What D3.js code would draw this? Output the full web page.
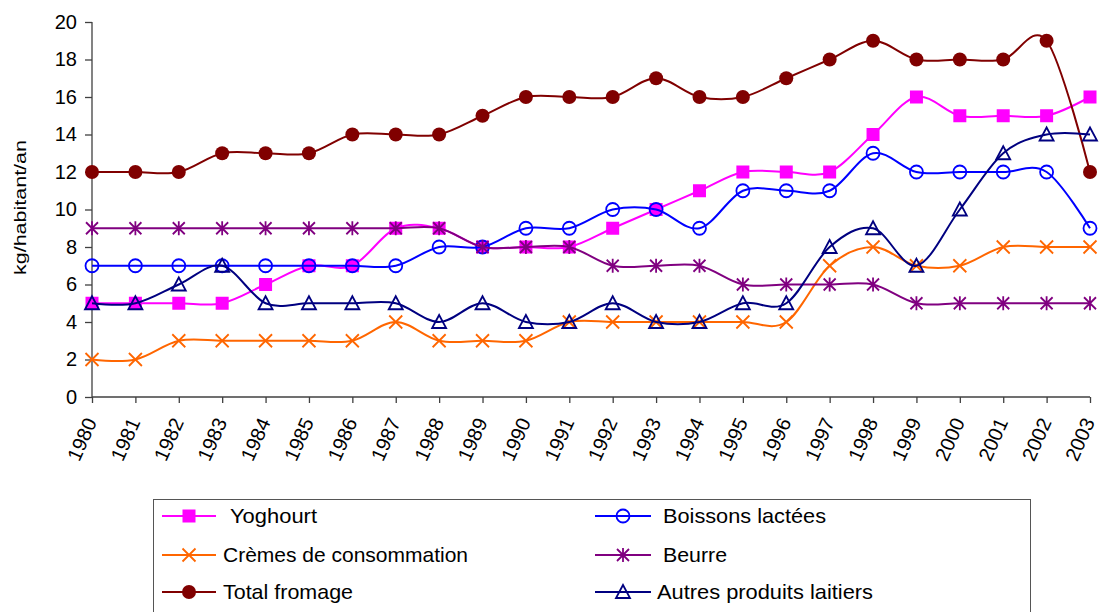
<!DOCTYPE html>
<html><head><meta charset="utf-8">
<script src="https://cdn.jsdelivr.net/npm/d3@7"></script>
<style>body{margin:0;background:#fff}svg{display:block;font-family:"Liberation Sans",Arial,sans-serif}</style>
</head><body><svg id="c" width="1104" height="612"></svg>
<script>
const years = ["1980","1981","1982","1983","1984","1985","1986","1987","1988","1989","1990","1991","1992","1993","1994","1995","1996","1997","1998","1999","2000","2001","2002","2003"];
const yoghourt = [5,5,5,5,6,7,7,9,9,8,8,8,9,10,11,12,12,12,14,16,15,15,15,16];
const boissons = [7,7,7,7,7,7,7,7,8,8,9,9,10,10,9,11,11,11,13,12,12,12,12,9];
const cremes = [2,2,3,3,3,3,3,4,3,3,3,4,4,4,4,4,4,7,8,7,7,8,8,8];
const beurre = [9,9,9,9,9,9,9,9,9,8,8,8,7,7,7,6,6,6,6,5,5,5,5,5];
const fromage = [12,12,12,13,13,13,14,14,14,15,16,16,16,17,16,16,17,18,19,18,18,18,19,12];
const autres = [5,5,6,7,5,5,5,5,4,5,4,4,5,4,4,5,5,8,9,7,10,13,14,14];
const yTicks = [0,2,4,6,8,10,12,14,16,18,20];
const seriesNames = ["Yoghourt","Boissons lactées","Crèmes de consommation","Beurre","Total fromage","Autres produits laitiers"];

const series = [
  {name:seriesNames[0], values:yoghourt, color:"#FF00FF", marker:"square"},
  {name:seriesNames[1], values:boissons, color:"#0000FF", marker:"circle"},
  {name:seriesNames[2], values:cremes, color:"#FF6600", marker:"x"},
  {name:seriesNames[3], values:beurre, color:"#800080", marker:"star"},
  {name:seriesNames[4], values:fromage, color:"#800000", marker:"dot"},
  {name:seriesNames[5], values:autres, color:"#000080", marker:"triangle"}
];

const svg = d3.select("#c");
const x = d3.scalePoint().domain(years).range([92, 1090]);
const y = d3.scaleLinear().domain([0,20]).range([397, 22]);
const axisColor = "#404040";

// Y axis
const gy = svg.append("g").attr("transform","translate(92,0)")
  .call(d3.axisLeft(y).tickValues(yTicks).tickSize(7).tickPadding(8).tickFormat(d3.format("d")));
gy.selectAll("path,line").attr("stroke",axisColor).attr("stroke-width",1.3);
gy.selectAll("text").attr("font-size",20).attr("fill","#000").attr("font-family","Liberation Sans, Arial, sans-serif");
gy.select(".domain").attr("d","M0,22V397");

// X axis
const gx = svg.append("g").attr("transform","translate(0,397)")
  .call(d3.axisBottom(x).tickSize(6).tickFormat(""));
gx.selectAll("path,line").attr("stroke",axisColor).attr("stroke-width",1.3);
gx.select(".domain").attr("d","M92,0H1090");
svg.append("g").selectAll("text").data(years).join("text")
  .attr("font-size",20)
  .attr("text-anchor","end")
  .attr("transform",d=>`translate(${x(d)-1},${419}) rotate(-66)`)
  .attr("dy","0.35em")
  .text(d=>d);

// Y title
svg.append("text").attr("transform","translate(26,207.5) rotate(-90)")
  .attr("text-anchor","middle").attr("font-size",17)
  .attr("textLength",135).attr("lengthAdjust","spacingAndGlyphs")
  .text("kg/habitant/an");

// markers
function drawMarker(g, type, color, cx, cy){
  if(type==="square"){
    g.append("rect").attr("x",cx-6.5).attr("y",cy-6.5).attr("width",13).attr("height",13).attr("fill",color);
  } else if(type==="circle"){
    g.append("circle").attr("cx",cx).attr("cy",cy).attr("r",6.5).attr("fill","none").attr("stroke",color).attr("stroke-width",1.8);
  } else if(type==="x"){
    g.append("path").attr("d",`M${cx-6.5},${cy-6.5}L${cx+6.5},${cy+6.5}M${cx-6.5},${cy+6.5}L${cx+6.5},${cy-6.5}`).attr("stroke",color).attr("stroke-width",1.8);
  } else if(type==="star"){
    g.append("path").attr("d",`M${cx-6},${cy-6}L${cx+6},${cy+6}M${cx-6},${cy+6}L${cx+6},${cy-6}M${cx},${cy-7}L${cx},${cy+7}`).attr("stroke",color).attr("stroke-width",1.8);
  } else if(type==="dot"){
    g.append("circle").attr("cx",cx).attr("cy",cy).attr("r",7).attr("fill",color);
  } else if(type==="triangle"){
    g.append("path").attr("d",`M${cx},${cy-7}L${cx+7},${cy+6}L${cx-7},${cy+6}Z`).attr("fill","none").attr("stroke",color).attr("stroke-width",1.8);
  }
}

const line = d3.line().x((d,i)=>x(years[i])).y(d=>y(d)).curve(d3.curveCardinal.tension(0));
series.forEach(s=>{
  const g = svg.append("g");
  g.append("path").attr("d",line(s.values)).attr("fill","none").attr("stroke",s.color).attr("stroke-width",2);
  s.values.forEach((v,i)=>drawMarker(g,s.marker,s.color,x(years[i]),y(v)));
});

// Legend
const lg = svg.append("g");
lg.append("rect").attr("x",153.5).attr("y",499.5).attr("width",877).attr("height",130).attr("fill","#fff").attr("stroke","#555").attr("stroke-width",1);
const rows = [516,555,592];
const cols = [{x1:162,x2:216},{x1:595,x2:651}];
const textPos = [230,663,223,663,223,657];
const textLen = [87,163,245,64,130,216];
series.forEach((s,i)=>{
  const r = Math.floor(i/2), c = i%2;
  const ly = rows[r], col = cols[c];
  lg.append("line").attr("x1",col.x1).attr("x2",col.x2).attr("y1",ly).attr("y2",ly).attr("stroke",s.color).attr("stroke-width",2);
  drawMarker(lg, s.marker, s.color, (col.x1+col.x2)/2, ly);
  lg.append("text").attr("x", textPos[i]).attr("y",ly+7).attr("font-size",21)
    .attr("textLength",textLen[i]).attr("lengthAdjust","spacingAndGlyphs").text(s.name);
});
</script></body></html>
